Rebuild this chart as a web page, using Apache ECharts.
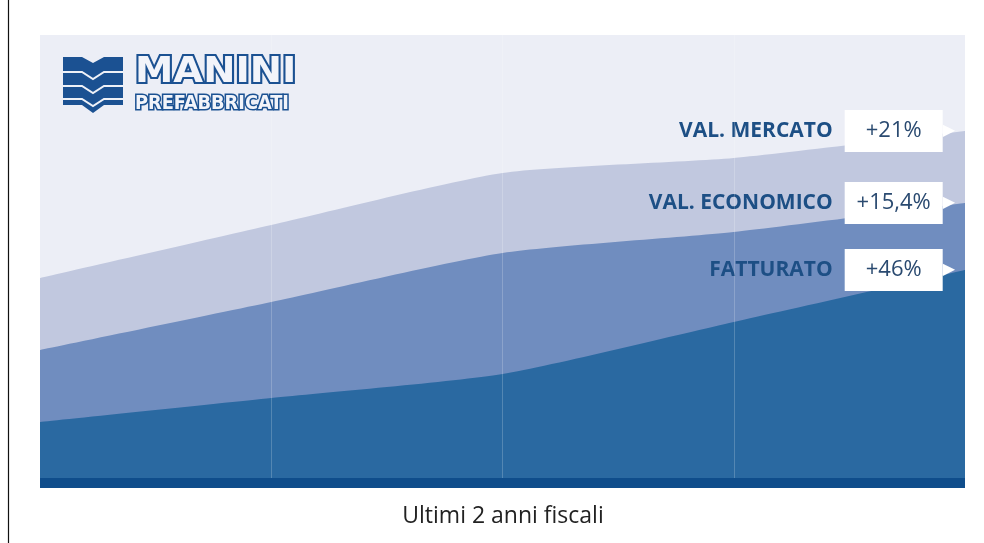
<!DOCTYPE html>
<html>
<head>
<meta charset="utf-8">
<script src="https://cdn.jsdelivr.net/npm/echarts@6/dist/echarts.min.js"></script>
<style>
html,body{margin:0;padding:0;background:#fff;}
#chart{width:984px;height:543px;}
</style>
</head>
<body>
<div id="chart"></div>
<script>
// ---- data ----
const periods = ['P1', 'P2', 'P3', 'P4', 'P5'];
const valMercato = [200, 253, 305, 320, 347];
const valEconomico = [128, 176, 225, 246, 275];
const fatturato = [56, 80, 104, 156, 208];
const seriesNames = ['VAL. MERCATO', 'VAL. ECONOMICO', 'FATTURATO'];
const growthLabels = ['+21%', '+15,4%', '+46%'];
const chartTitle = 'Ultimi 2 anni fiscali';
const logoName = 'MANINI';
const logoSub = 'PREFABBRICATI';

const colors = ['#c1c8df', '#708dbf', '#2a69a1'];
const allValues = [valMercato, valEconomico, fatturato];

const chart = echarts.init(document.getElementById('chart'));

const rich = {
  n: {fontFamily: 'Open Sans', fontWeight: 'bold', fontSize: 21, color: '#1d4f85', verticalAlign: 'middle'},
  g: {width: 12, verticalAlign: 'middle'},
  v: {width: 98, height: 42, lineHeight: 42, align: 'center', backgroundColor: '#ffffff',
      fontFamily: 'Open Sans', fontSize: 22, color: '#2a4a70', verticalAlign: 'middle'},
  a: {fontFamily: 'DejaVu Sans', fontSize: 16, color: '#ffffff', verticalAlign: 'middle'}
};

function buildData(vals, idx) {
  const last = vals.length - 1;
  return vals.map((v, i) => i === last ? {
    value: v,
    label: {
      show: true,
      position: 'left',
      distance: 10,
      formatter: '{n|' + seriesNames[idx] + '}{g|}{v|' + growthLabels[idx] + '}{a|\u25B6}',
      rich: rich
    }
  } : v);
}

const series = allValues.map((vals, idx) => {
  const s = {
    name: seriesNames[idx],
    type: 'line',
    data: buildData(vals, idx),
    smooth: 0.2,
    symbol: 'circle',
    symbolSize: 0,
    showSymbol: true,
    lineStyle: {width: 0},
    itemStyle: {color: colors[idx]},
    areaStyle: {color: colors[idx], opacity: 1},
    emphasis: {disabled: true},
    silent: true
  };
  if (idx === allValues.length - 1) {
    s.markLine = {
      silent: true,
      symbol: ['none', 'none'],
      label: {show: false},
      lineStyle: {color: 'rgba(255,255,255,0.2)', width: 1, type: 'solid'},
      data: periods.slice(1, -1).map(p => ({xAxis: p}))
    };
  }
  return s;
});

const option = {
  animation: false,
  title: {
    text: chartTitle,
    left: 498, textAlign: 'center',
    top: 500,
    textStyle: {fontFamily: 'Open Sans', fontWeight: 'normal', fontSize: 23, color: '#222'}
  },
  grid: {left: 40, right: 19, top: 35, bottom: 65, show: true, backgroundColor: '#eceef6', borderWidth: 0},
  xAxis: {
    type: 'category',
    data: periods,
    boundaryGap: false,
    offset: 5,
    z: 3,
    axisLine: {show: true, onZero: false, lineStyle: {color: '#0f4d8b', width: 10, cap: 'butt'}},
    axisTick: {show: false},
    axisLabel: {show: false},
    splitLine: {show: false}
  },
  yAxis: {type: 'value', min: 0, max: 443, show: false, splitLine: {show: false}},
  series: series,
  graphic: [
    {type: 'line', shape: {x1: 8.5, y1: 0, x2: 8.5, y2: 543}, style: {stroke: '#111', lineWidth: 1.2}, z: 10},
    {type: 'polygon', shape: {points: [[63,57],[82,57],[93,63],[104,57],[123,57],[123,105],[104,105],[93,113],[82,105],[63,105]]},
     style: {fill: '#1b5192'}, z: 10},
    {type: 'polyline', shape: {points: [[63,72],[82,72],[93,79],[104,72],[123,72]]}, style: {stroke: '#eef1f8', lineWidth: 2, fill: null}, z: 11},
    {type: 'polyline', shape: {points: [[63,86],[82,86],[93,93],[104,86],[123,86]]}, style: {stroke: '#eef1f8', lineWidth: 2, fill: null}, z: 11},
    {type: 'polyline', shape: {points: [[63,99],[82,99],[93,106],[104,99],[123,99]]}, style: {stroke: '#eef1f8', lineWidth: 2, fill: null}, z: 11},
    {type: 'text', x: 135, y: 55, scaleX: 1.07, z: 10,
     style: {text: logoName, font: 'bold 36px "DejaVu Sans"', fill: '#f2f4fa', stroke: '#1b5192', lineWidth: 4}},
    {type: 'text', x: 135, y: 95, scaleX: 1.04, z: 10,
     style: {text: logoSub, font: 'bold 19px "DejaVu Sans Condensed"', fill: '#f2f4fa', stroke: '#1b5192', lineWidth: 3}}
  ]
};
chart.setOption(option);
</script>
</body>
</html>
